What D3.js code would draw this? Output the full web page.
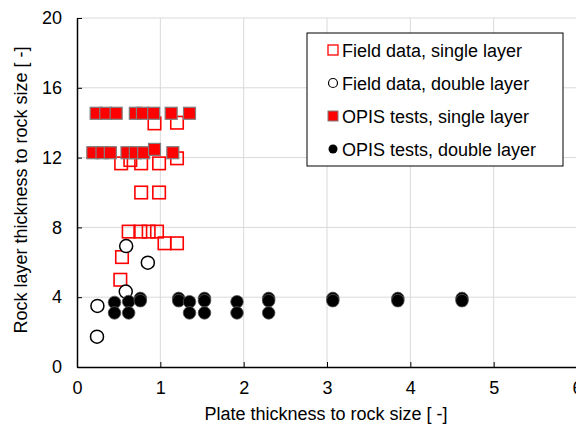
<!DOCTYPE html>
<html>
<head>
<meta charset="utf-8">
<script src="https://cdn.jsdelivr.net/npm/d3@7"></script>
<style>
  body { margin: 0; background: #fff; }
  svg { font-family: "Liberation Sans", Arial, sans-serif; }
</style>
</head>
<body>
<div id="chart"></div>
<script>
// field data, single layer (open red squares)
const fieldSingleX = [0.93, 1.20, 0.53, 0.64, 0.77, 0.985, 1.20, 0.77, 0.985, 0.62, 0.76, 0.86, 0.96, 1.05, 1.20, 0.54, 0.52];
const fieldSingleY = [13.96, 14.0, 11.67, 11.86, 11.67, 11.67, 11.96, 10.0, 10.0, 7.76, 7.76, 7.76, 7.76, 7.09, 7.09, 6.3, 5.0];
// field data, double layer (open circles)
const fieldDoubleX = [0.59, 0.85, 0.585, 0.245, 0.24];
const fieldDoubleY = [6.93, 5.98, 4.32, 3.5, 1.74];
// OPIS tests, single layer (filled red squares)
const opisSingleX = [0.23, 0.345, 0.47, 0.70, 0.785, 0.92, 1.13, 1.35, 0.19, 0.30, 0.40, 0.60, 0.70, 0.80, 1.15, 0.93];
const opisSingleY = [14.54, 14.54, 14.54, 14.54, 14.54, 14.54, 14.54, 14.54, 12.28, 12.28, 12.28, 12.28, 12.28, 12.28, 12.28, 12.47];
// OPIS tests, double layer (filled black circles)
const opisDoubleX = [0.45, 0.45, 0.62, 0.62, 0.76, 0.76, 1.22, 1.22, 1.35, 1.35, 1.53, 1.53, 1.53, 1.92, 1.92, 2.30, 2.30, 2.30, 3.07, 3.07, 3.85, 3.85, 4.62, 4.62];
const opisDoubleY = [3.7, 3.1, 3.75, 3.1, 3.93, 3.8, 3.93, 3.8, 3.74, 3.1, 3.93, 3.8, 3.1, 3.74, 3.1, 3.93, 3.8, 3.1, 3.93, 3.8, 3.93, 3.8, 3.93, 3.8];

const xTicks = [0, 1, 2, 3, 4, 5, 6];
const yTicks = [0, 4, 8, 12, 16, 20];
const legendLabels = ["Field data, single layer", "Field data, double layer", "OPIS tests, single layer", "OPIS tests, double layer"];

const W = 576, H = 428;
const margin = { top: 18, right: -1, bottom: 61, left: 77 };
const width = W - margin.left - margin.right;
const height = H - margin.top - margin.bottom;
const fontSize = 18;

const svg = d3.select("#chart").append("svg")
  .attr("width", W)
  .attr("height", H);

const g = svg.append("g")
  .attr("transform", "translate(" + margin.left + "," + margin.top + ")");

const x = d3.scaleLinear().domain([0, 6]).range([0, width]);
const y = d3.scaleLinear().domain([0, 20]).range([height, 0]);

// gridlines
g.append("g").selectAll("line")
  .data(xTicks.slice(1))
  .enter().append("line")
  .attr("x1", d => x(d)).attr("x2", d => x(d))
  .attr("y1", 0).attr("y2", height)
  .attr("stroke", "#d9d9d9").attr("stroke-width", 1);
g.append("g").selectAll("line")
  .data(yTicks.slice(1))
  .enter().append("line")
  .attr("x1", 0).attr("x2", width)
  .attr("y1", d => y(d)).attr("y2", d => y(d))
  .attr("stroke", "#d9d9d9").attr("stroke-width", 1);

// axes, ticks pointing inward
const xAxis = g.append("g")
  .attr("transform", "translate(0," + height + ")")
  .call(d3.axisBottom(x).tickValues(xTicks).tickFormat(d3.format("d"))
    .tickSizeInner(-5).tickSizeOuter(0).tickPadding(14));
const yAxis = g.append("g")
  .call(d3.axisLeft(y).tickValues(yTicks).tickFormat(d3.format("d"))
    .tickSizeInner(-5).tickSizeOuter(0).tickPadding(15));

[xAxis, yAxis].forEach(a => {
  a.select(".domain").attr("stroke", "#000").attr("stroke-width", 1.5);
  a.selectAll(".tick line").attr("stroke", "#000");
  a.selectAll(".tick text")
    .attr("font-size", fontSize)
    .attr("font-family", "Liberation Sans, Arial, sans-serif")
    .attr("fill", "#000");
});

// axis titles
svg.append("text")
  .attr("x", 326).attr("y", 420)
  .attr("text-anchor", "middle")
  .attr("font-size", fontSize)
  .text("Plate thickness to rock size [ -]");
svg.append("text")
  .attr("transform", "translate(27,190) rotate(-90)")
  .attr("text-anchor", "middle")
  .attr("font-size", fontSize)
  .text("Rock layer thickness to rock size  [ -]");

// series
const fs = fieldSingleX.map((d, i) => [d, fieldSingleY[i]]);
const fd = fieldDoubleX.map((d, i) => [d, fieldDoubleY[i]]);
const os = opisSingleX.map((d, i) => [d, opisSingleY[i]]);
const od = opisDoubleX.map((d, i) => [d, opisDoubleY[i]]);

const sq = 12.5;
g.append("g").selectAll("rect")
  .data(fs).enter().append("rect")
  .attr("x", d => x(d[0]) - sq / 2).attr("y", d => y(d[1]) - sq / 2)
  .attr("width", sq).attr("height", sq)
  .attr("fill", "none").attr("stroke", "#ff0000").attr("stroke-width", 1.6);

g.append("g").selectAll("circle")
  .data(fd).enter().append("circle")
  .attr("cx", d => x(d[0])).attr("cy", d => y(d[1]))
  .attr("r", 6.5)
  .attr("fill", "#fff").attr("stroke", "#000").attr("stroke-width", 1.5);

g.append("g").selectAll("rect")
  .data(os).enter().append("rect")
  .attr("x", d => x(d[0]) - 6).attr("y", d => y(d[1]) - 6)
  .attr("width", 12).attr("height", 12)
  .attr("fill", "#ff0000").attr("stroke", "#7f7f7f").attr("stroke-width", 1.2);

g.append("g").selectAll("circle")
  .data(od).enter().append("circle")
  .attr("cx", d => x(d[0])).attr("cy", d => y(d[1]))
  .attr("r", 6.3)
  .attr("fill", "#000").attr("stroke", "#595959").attr("stroke-width", 0.8);

// legend
const lg = svg.append("g").attr("transform", "translate(307,33)");
lg.append("rect")
  .attr("width", 256).attr("height", 133)
  .attr("fill", "#fff").attr("stroke", "#000").attr("stroke-width", 1);

const items = lg.selectAll("g.item")
  .data(legendLabels).enter().append("g")
  .attr("class", "item")
  .attr("transform", (d, i) => "translate(26," + (17 + i * 33) + ")");

items.append("text")
  .attr("x", 9).attr("y", 6.5)
  .attr("font-size", fontSize)
  .text(d => d);

items.each(function (d, i) {
  const s = d3.select(this);
  if (i === 0) {
    s.append("rect").attr("x", -5).attr("y", -5).attr("width", 10).attr("height", 10)
      .attr("fill", "none").attr("stroke", "#ff0000").attr("stroke-width", 1.3);
  } else if (i === 1) {
    s.append("circle").attr("r", 4.5)
      .attr("fill", "#fff").attr("stroke", "#000").attr("stroke-width", 1.2);
  } else if (i === 2) {
    s.append("rect").attr("x", -5).attr("y", -5).attr("width", 10).attr("height", 10)
      .attr("fill", "#ff0000").attr("stroke", "#7f7f7f").attr("stroke-width", 1);
  } else {
    s.append("circle").attr("r", 4.5).attr("fill", "#000");
  }
});
</script>
</body>
</html>
